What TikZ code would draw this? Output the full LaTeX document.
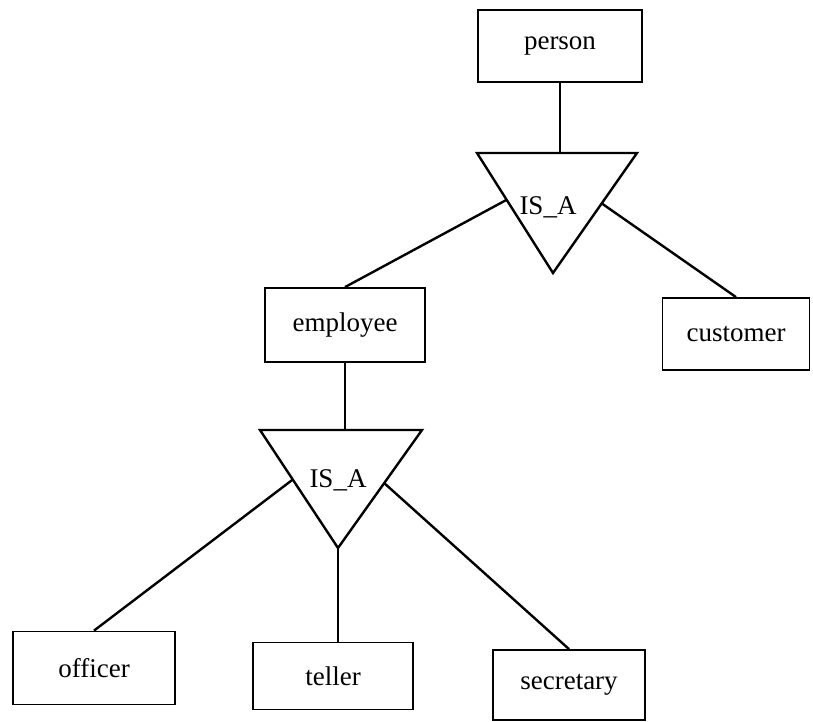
\documentclass[tikz,border=0pt]{standalone}
\usepackage{fontspec}
\setmainfont{Liberation Serif}
\usetikzlibrary{calc}
\begin{document}
\begin{tikzpicture}[x=1pt,y=-1pt,
  entity/.style={draw, line width=1.8pt, inner sep=0pt, font=\fontsize{27}{32}\selectfont},
  link/.style={line width=2.4pt},
  isa/.style={font=\fontsize{27}{32}\selectfont, inner sep=0pt}]
\useasboundingbox (0,0) rectangle (813,722);
% entities
\node[entity, minimum width=164pt, minimum height=72pt] (person) at (560,46) {person};
\node[entity, minimum width=160pt, minimum height=74pt] (employee) at (345,325) {employee};
\node[entity, minimum width=147pt, minimum height=72pt] (customer) at (736,334) {customer};
\node[entity, minimum width=162pt, minimum height=73pt] (officer) at (94,668) {officer};
\node[entity, minimum width=160pt, minimum height=67pt] (teller) at (333,676) {teller};
\node[entity, minimum width=152pt, minimum height=70pt] (secretary) at (569,685) {secretary};
% triangle 1
\coordinate (t1l) at (477,153);
\coordinate (t1r) at (637,153);
\coordinate (t1a) at (553,273);
\draw[link, line join=miter] (t1l) -- (t1r) -- (t1a) -- cycle;
\node[isa] (isa1) at (548,207) {IS\_A};
% triangle 2
\coordinate (t2l) at (260,430);
\coordinate (t2r) at (422,430);
\coordinate (t2a) at (338,548);
\draw[link, line join=miter] (t2l) -- (t2r) -- (t2a) -- cycle;
\node[isa] (isa2) at (338,480) {IS\_A};
% side attachment points
\coordinate (t1ls) at ($(t1l)!0.39!(t1a)$);
\coordinate (t1rs) at ($(t1r)!0.42!(t1a)$);
\coordinate (t2ls) at ($(t2l)!0.42!(t2a)$);
\coordinate (t2rs) at ($(t2r)!0.45!(t2a)$);
% connectors
\draw[link] (person.south) -- (person.south |- t1l);
\draw[link] (t1ls) -- (employee.north);
\draw[link] (t1rs) -- (customer.north);
\draw[link] (employee.south) -- (employee.south |- t2l);
\draw[link] (t2ls) -- (officer.north);
\draw[link] (t2a) -- (t2a |- teller.north);
\draw[link] (t2rs) -- (secretary.north);
\end{tikzpicture}
\end{document}
